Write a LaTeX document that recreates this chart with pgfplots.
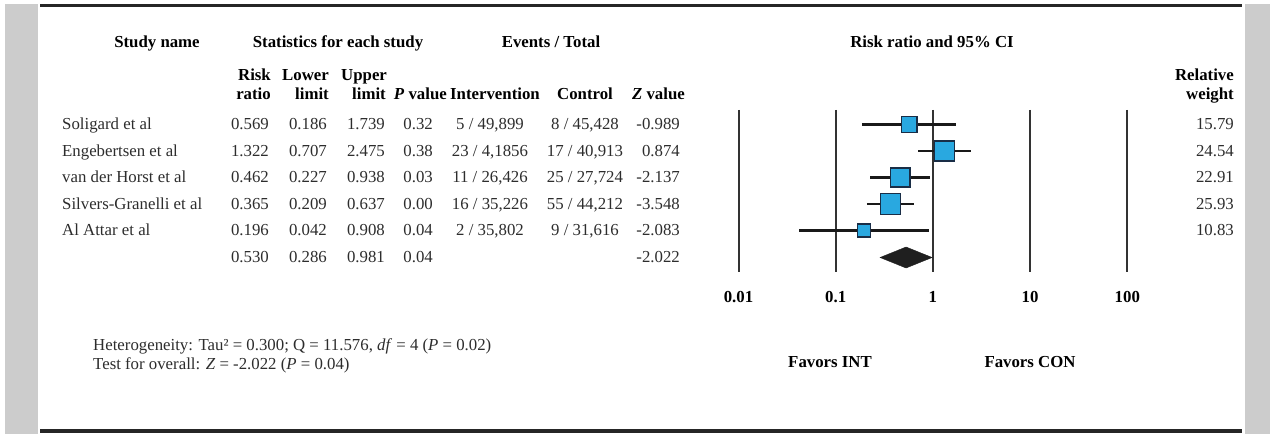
\documentclass[border=0pt]{standalone}
\usepackage{fontspec}
\setmainfont{Liberation Serif}
\usepackage{pgfplots}
\pgfplotsset{compat=1.18}
\usepackage{pgfplotstable}
\definecolor{sqblue}{RGB}{41,168,224}
\definecolor{sqedge}{RGB}{25,45,70}
\definecolor{panelgray}{RGB}{204,204,204}
\definecolor{txt}{RGB}{45,45,45}

\pgfplotstableread{
y rr lo hi w
124.5 0.569 0.186 1.739 15.79
151 1.322 0.707 2.475 24.54
177.5 0.462 0.227 0.938 22.91
204 0.365 0.209 0.637 25.93
230.5 0.196 0.042 0.908 10.83
}\studies

\newcommand{\RR}[3]{\node[anchor=base east,inner sep=0pt] at (#1,#2) {#3};}
\newcommand{\LL}[3]{\node[anchor=base west,inner sep=0pt] at (#1,#2) {#3};}
\newcommand{\CC}[3]{\node[anchor=base,inner sep=0pt] at (#1,#2) {#3};}

\begin{document}
\fontsize{16.8}{19}\selectfont
\begin{tikzpicture}
\path[use as bounding box] (0,0) rectangle (1270pt,-438pt);
\fill[white] (0,0) rectangle (1270pt,-438pt);
\begin{scope}[x=1pt,y=-1pt]
\fill[panelgray] (5,4) rectangle (38,434);
\fill[panelgray] (1245,4) rectangle (1270,434);
\draw[line width=3.5pt, black!85] (40,5.5) -- (1242,5.5);
\draw[line width=3.5pt, black!85] (40,431) -- (1242,431);
% headers
\begin{scope}[font=\bfseries]
\CC{157}{47.5}{Study name}
\CC{338}{47.5}{Statistics for each study}
\CC{551}{47.5}{Events / Total}
\CC{932}{47.5}{Risk ratio and 95\% CI}
\RR{271}{80.5}{Risk}
\RR{271}{99.5}{ratio}
\RR{329}{80.5}{Lower}
\RR{329}{99.5}{limit}
\LL{341}{80.5}{Upper}
\RR{386}{99.5}{limit}
\RR{447}{99.5}{\textit{P} value}
\CC{495}{99.5}{Intervention}
\CC{585}{99.5}{Control}
\RR{685}{99.5}{\textit{Z} value}
\RR{1234}{80.5}{Relative}
\RR{1234}{99.5}{weight}
\end{scope}
% rows
\begin{scope}[text=txt]
\LL{62}{130}{Soligard et al}
\LL{62}{156.5}{Engebertsen et al}
\LL{62}{183}{van der Horst et al}
\LL{62}{209.5}{Silvers-Granelli et al}
\LL{62}{236}{Al Attar et al}
\RR{269}{130}{0.569}\RR{327}{130}{0.186}\RR{385}{130}{1.739}\RR{433}{130}{0.32}
\CC{490}{130}{5 / 49,899}\CC{585}{130}{8 / 45,428}\RR{680}{130}{-0.989}\RR{1234}{130}{15.79}
\RR{269}{156.5}{1.322}\RR{327}{156.5}{0.707}\RR{385}{156.5}{2.475}\RR{433}{156.5}{0.38}
\CC{490}{156.5}{23 / 4,1856}\CC{585}{156.5}{17 / 40,913}\RR{680}{156.5}{0.874}\RR{1234}{156.5}{24.54}
\RR{269}{183}{0.462}\RR{327}{183}{0.227}\RR{385}{183}{0.938}\RR{433}{183}{0.03}
\CC{490}{183}{11 / 26,426}\CC{585}{183}{25 / 27,724}\RR{680}{183}{-2.137}\RR{1234}{183}{22.91}
\RR{269}{209.5}{0.365}\RR{327}{209.5}{0.209}\RR{385}{209.5}{0.637}\RR{433}{209.5}{0.00}
\CC{490}{209.5}{16 / 35,226}\CC{585}{209.5}{55 / 44,212}\RR{680}{209.5}{-3.548}\RR{1234}{209.5}{25.93}
\RR{269}{236}{0.196}\RR{327}{236}{0.042}\RR{385}{236}{0.908}\RR{433}{236}{0.04}
\CC{490}{236}{2 / 35,802}\CC{585}{236}{9 / 31,616}\RR{680}{236}{-2.083}\RR{1234}{236}{10.83}
\RR{269}{262.5}{0.530}\RR{327}{262.5}{0.286}\RR{385}{262.5}{0.981}\RR{433}{262.5}{0.04}
\RR{680}{262.5}{-2.022}
\LL{93}{351}{Heterogeneity: Tau² = 0.300; Q = 11.576, \textit{df} = 4 (\textit{P} = 0.02)}
\LL{93}{370}{Test for overall: \textit{Z} = -2.022 (\textit{P} = 0.04)}
\end{scope}
\begin{scope}[font=\bfseries]
\CC{830}{368}{Favors INT}
\CC{1030}{368}{Favors CON}
\end{scope}
\end{scope}
\begin{axis}[
  at={(738.5pt,-272pt)}, anchor=south west,
  scale only axis, width=388.8pt, height=162pt,
  xmode=log, xmin=0.01, xmax=100,
  ymin=110, ymax=272, y dir=reverse,
  axis line style={draw=none},
  xtick={0.01,0.1,1,10,100}, ytick=\empty, minor xtick={},
  xticklabels={}, major tick length=0pt, minor tick length=0pt,
  tick style={draw=none},
  xmajorgrids, grid style={line width=2pt, color=black!80},
  clip=false,
]
\addplot[line width=2.4pt, black!90] coordinates {(0.186,124.5) (1.739,124.5)};
\addplot[line width=2.4pt, black!90] coordinates {(0.707,151) (2.475,151)};
\addplot[line width=2.4pt, black!90] coordinates {(0.227,177.5) (0.938,177.5)};
\addplot[line width=2.4pt, black!90] coordinates {(0.209,204) (0.637,204)};
\addplot[line width=2.4pt, black!90] coordinates {(0.042,230.5) (0.908,230.5)};
\addplot[scatter, only marks, mark=square*, point meta=\thisrow{w},
  visualization depends on={2*sqrt(\thisrow{w}) \as \msz},
  scatter/@pre marker code/.code={\scope[mark size=\msz pt, fill=sqblue, draw=sqedge, line width=1.3pt]},
  scatter/@post marker code/.code={\endscope}]
  table[x=rr, y=y] {\studies};
\addplot[fill=black!88, draw=black!88] coordinates {(0.286,257.5) (0.530,247) (0.981,257.5) (0.530,268)} -- cycle;
\node[anchor=base, font=\bfseries, inner sep=0pt] at (axis cs:0.01,302) {0.01};
\node[anchor=base, font=\bfseries, inner sep=0pt] at (axis cs:0.1,302) {0.1};
\node[anchor=base, font=\bfseries, inner sep=0pt] at (axis cs:1,302) {1};
\node[anchor=base, font=\bfseries, inner sep=0pt] at (axis cs:10,302) {10};
\node[anchor=base, font=\bfseries, inner sep=0pt] at (axis cs:100,302) {100};
\end{axis}
\end{tikzpicture}
\end{document}
